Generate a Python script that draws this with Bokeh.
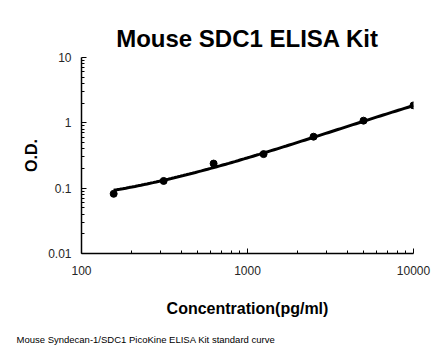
import numpy as np
from bokeh.plotting import figure
from bokeh.models import FixedTicker, CustomJSTickFormatter, Title, ColumnDataSource
from bokeh.embed import file_html
from bokeh.resources import INLINE

# data
conc = [156.25, 312.5, 625, 1250, 2500, 5000, 10000]
od = [0.082, 0.129, 0.238, 0.332, 0.614, 1.08, 1.85]
# standard curve as drawn in the reference, read at the same concentrations
fit_od = [0.091, 0.138, 0.206, 0.327, 0.614, 1.08, 1.81]

x_major = [100, 1000, 10000]
x_minor = [200, 300, 400, 500, 600, 700, 800, 900,
           2000, 3000, 4000, 5000, 6000, 7000, 8000, 9000]
y_major = [0.01, 0.1, 1, 10]
y_minor = [0.02, 0.03, 0.04, 0.05, 0.06, 0.07, 0.08, 0.09,
           0.2, 0.3, 0.4, 0.5, 0.6, 0.7, 0.8, 0.9,
           2, 3, 4, 5, 6, 7, 8, 9]

title_text = "Mouse SDC1 ELISA Kit"
x_label = "Concentration(pg/ml)"
y_label = "O.D."
footnote = "Mouse Syndecan-1/SDC1 PicoKine ELISA Kit standard curve"

# smooth the read curve (cubic in log-log space)
lx = np.log10(conc)
coef = np.polyfit(lx, np.log10(fit_od), 3)
fx = np.linspace(lx[0], lx[-1], 100)
fit_src = ColumnDataSource(dict(x=10 ** fx, y=10 ** np.polyval(coef, fx)))
pt_src = ColumnDataSource(dict(x=conc, y=od))

p = figure(width=446, height=356, x_axis_type="log", y_axis_type="log",
           x_range=(100, 10000), y_range=(0.01, 10),
           output_backend="svg", toolbar_location=None,
           min_border_left=81, min_border_right=33,
           min_border_top=57, min_border_bottom=102)
p.outline_line_color = None
p.grid.visible = False
p.background_fill_color = "white"
p.border_fill_color = "white"

p.title.text = title_text
p.title.align = "center"
p.title.offset = -4
p.title.text_font = "Liberation Sans"
p.title.text_font_style = "bold"
p.title.text_font_size = "24px"
p.title.text_color = "black"
p.title.standoff = 12

p.line("x", "y", source=fit_src, line_color="black", line_width=3)
p.scatter("x", "y", source=pt_src, size=7, fill_color="black", line_color="black")

fmt = CustomJSTickFormatter(code="return tick.toString();")
p.xaxis.ticker = FixedTicker(ticks=x_major, minor_ticks=x_minor)
p.yaxis.ticker = FixedTicker(ticks=y_major, minor_ticks=y_minor)
for ax in (p.xaxis[0], p.yaxis[0]):
    ax.formatter = fmt
    ax.axis_line_color = "black"
    ax.axis_line_width = 1.5
    ax.major_tick_in = 5
    ax.major_tick_out = 0
    ax.minor_tick_in = 3
    ax.minor_tick_out = 0
    ax.major_tick_line_color = "black"
    ax.minor_tick_line_color = "black"
    ax.major_label_text_font = "Liberation Sans"
    ax.major_label_text_font_size = "12px"
    ax.major_label_text_color = "#262626"
    ax.axis_label_text_font = "Liberation Sans"
    ax.axis_label_text_font_style = "bold"
    ax.axis_label_text_color = "black"

p.xaxis.axis_label = x_label
p.xaxis.axis_label_text_font_size = "16px"
p.xaxis.major_label_standoff = 12
p.xaxis.axis_label_standoff = 22
p.yaxis.axis_label = y_label
p.yaxis.axis_label_text_font_size = "16px"
p.yaxis.major_label_standoff = 10
p.yaxis.axis_label_standoff = 5

p.add_layout(Title(text=footnote, align="left", offset=-65,
                   text_font="Liberation Sans", text_font_style="normal",
                   text_font_size="9.5px", text_color="black", standoff=24), "below")

open("out.html", "w").write(file_html(p, INLINE))
